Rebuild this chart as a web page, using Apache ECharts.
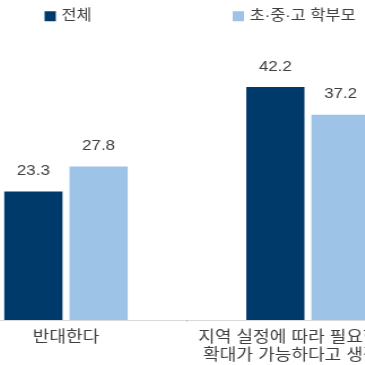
<!DOCTYPE html>
<html>
<head>
<meta charset="utf-8">
<script src="https://cdn.jsdelivr.net/npm/echarts@6/dist/echarts.min.js"></script>
<style>
html,body{margin:0;padding:0;width:365px;height:365px;overflow:hidden;background:#fff;position:relative;}
#c{position:absolute;left:-60px;top:0;width:450px;height:365px;transform:scaleX(1.13);transform-origin:0 0;}
</style>
</head>
<body>
<div id="c"></div>
<script>
var categories = ['반대한다', '지역 실정에 따라 필요한 곳은\n확대가 가능하다고 생각한다'];
var seriesNames = ['전체', '초·중·고 학부모'];
var totalValues = [23.3, 42.2];
var parentValues = [27.8, 37.2];

var FONT = '"Liberation Sans","Noto Sans CJK KR",sans-serif';
var chart = echarts.init(document.getElementById('c'), null, {renderer:'canvas'});
chart.setOption({
  animation: false,
  legend: [
    {data:[seriesNames[0]], left:87.5, top:4, itemWidth:10, itemHeight:10, itemGap:6,
     icon:'rect', textStyle:{fontFamily:FONT, fontSize:14.5, color:'#404040'}},
    {data:[seriesNames[1]], left:254, top:4, itemWidth:10, itemHeight:10, itemGap:6,
     icon:'rect', textStyle:{fontFamily:FONT, fontSize:14.5, color:'#404040'}}
  ],
  grid: {left:4.4, right:17.3, top:44, bottom:42, containLabel:false},
  xAxis: {
    type:'category', data:categories,
    axisLine:{lineStyle:{color:'#d9d9d9', width:1}},
    axisTick:{show:true, length:2, lineStyle:{color:'#bfbfbf'}},
    axisLabel:{fontFamily:FONT, fontSize:16, color:'#404040', margin:9, lineHeight:18, interval:0}
  },
  yAxis: {type:'value', min:0, max:50, show:false, splitLine:{show:false}},
  series: [
    {name:seriesNames[0], type:'bar', data:totalValues, barGap:'12%', barCategoryGap:'49%',
     itemStyle:{color:'#003a6b'},
     label:{show:true, position:'top', distance:13, fontFamily:FONT, fontSize:15, color:'#404040'}},
    {name:seriesNames[1], type:'bar', data:parentValues,
     itemStyle:{color:'#9dc3e6'},
     label:{show:true, position:'top', distance:13, fontFamily:FONT, fontSize:15, color:'#404040'}}
  ]
});
</script>
</body>
</html>
